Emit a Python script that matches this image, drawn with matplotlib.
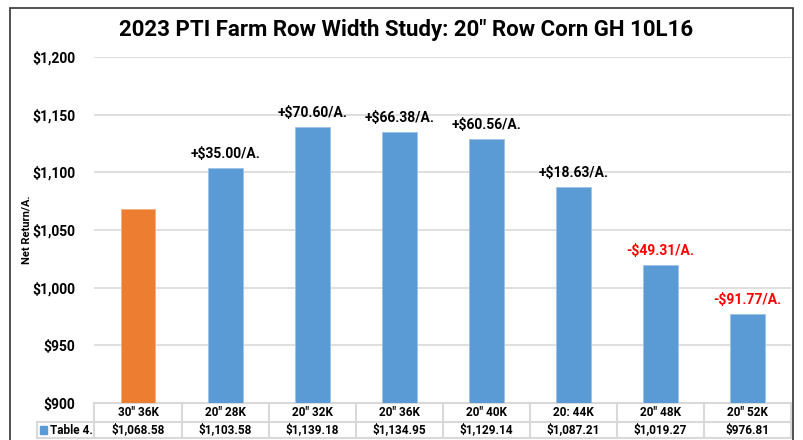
import matplotlib.pyplot as plt
import matplotlib.transforms as mtransforms
from matplotlib.patches import Rectangle
from matplotlib.lines import Line2D
from matplotlib.ticker import FuncFormatter

plt.rcParams["font.family"] = ["Roboto", "DejaVu Sans"]

categories = ['30" 36K', '20" 28K', '20" 32K', '20" 36K', '20" 40K', '20: 44K', '20" 48K', '20" 52K']
net_return = [1068.58, 1103.58, 1139.18, 1134.95, 1129.14, 1087.21, 1019.27, 976.81]
diff_labels = ["", "+$35.00/A.", "+$70.60/A.", "+$66.38/A.", "+$60.56/A.", "+$18.63/A.", "-$49.31/A.", "-$91.77/A."]
series_name = "Table 4."

blue = "#5B9BD5"
orange = "#ED7D31"
grid_c = "#D9D9D9"

fig = plt.figure(figsize=(8.04, 4.40), dpi=100)
W, H = 804, 440
ax = fig.add_axes([94.5 / W, 1 - 403 / H, (791 - 94.5) / W, (403 - 57) / H])

x = list(range(len(categories)))
colors = [orange] + [blue] * (len(categories) - 1)
ax.bar(x, [v - 900 for v in net_return], bottom=900, width=0.4, color=colors,
       edgecolor="#9DC3E6", linewidth=0.6, zorder=3)
ax.patches[0].set_edgecolor("#F4B183")

for i, lab in enumerate(diff_labels):
    if not lab:
        continue
    c = "#FF0000" if lab.startswith("-") else "black"
    ax.annotate(lab, (i, net_return[i]), xytext=(0, 5), textcoords="offset points",
                ha="center", va="bottom", fontsize=10, fontweight="bold", color=c)

ax.set_xlim(-0.5, len(categories) - 0.5)
ax.set_ylim(900, 1200)
ax.set_yticks(range(900, 1201, 50))
ax.yaxis.set_major_formatter(FuncFormatter(lambda v, p: f"${v:,.0f}"))
ax.tick_params(axis="y", length=0, pad=14, labelsize=10)
for t in ax.get_yticklabels():
    t.set_fontweight("bold")
ax.set_xticks([])
ax.grid(axis="y", color=grid_c, linewidth=1.2, zorder=0)
for s in ax.spines.values():
    s.set_visible(False)
ax.set_ylabel("Net Return/A.", fontsize=8, fontweight="bold", labelpad=4)
ax.yaxis.set_label_coords(-0.09, 0.5)

# data table under the axes
tr = mtransforms.blended_transform_factory(ax.transData, ax.transAxes)
ax_h = 403 - 57
y0 = 0.0
y1 = -(422 - 403) / ax_h
y2 = -(438 - 403) / ax_h
lab_left = -0.5 - (94.5 - 37) / ((791 - 94.5) / len(categories))
lkw = dict(color=grid_c, linewidth=1.5, transform=tr, clip_on=False, zorder=1)
ax.add_line(Line2D([-0.5, 7.5], [y0, y0], **lkw))
ax.add_line(Line2D([lab_left, 7.5], [y1, y1], **lkw))
ax.add_line(Line2D([lab_left, 7.5], [y2, y2], **lkw))
ax.add_line(Line2D([lab_left, lab_left], [y1, y2], **lkw))
for k in range(len(categories) + 1):
    ax.add_line(Line2D([k - 0.5, k - 0.5], [y0, y2], **lkw))
for i, (c, v) in enumerate(zip(categories, net_return)):
    ax.text(i, (y0 + y1) / 2, c, transform=tr, ha="center", va="center",
            fontsize=8.5, fontweight="bold", clip_on=False)
    ax.text(i, (y1 + y2) / 2, f"${v:,.2f}", transform=tr, ha="center", va="center",
            fontsize=8.5, fontweight="bold", clip_on=False)
ax.add_patch(Rectangle((lab_left + 0.04, (y1 + y2) / 2 - 0.012), 0.08, 0.024,
                       transform=tr, color=blue, clip_on=False))
ax.text(lab_left + 0.15, (y1 + y2) / 2, series_name, transform=tr, ha="left", va="center",
        fontsize=8.5, fontweight="bold", clip_on=False)

fig.text(0.505, 1 - 30 / H, '2023 PTI Farm Row Width Study: 20" Row Corn GH 10L16',
         ha="center", va="center", fontsize=16, fontweight="bold")

# outer chart frame
fig.add_artist(Rectangle((10 / W, -0.05), (793 - 10) / W, 1.05 - 8 / H,
                         transform=fig.transFigure, fill=False, edgecolor="#333333",
                         linewidth=1.2))

fig.savefig("out.png", dpi=100)
